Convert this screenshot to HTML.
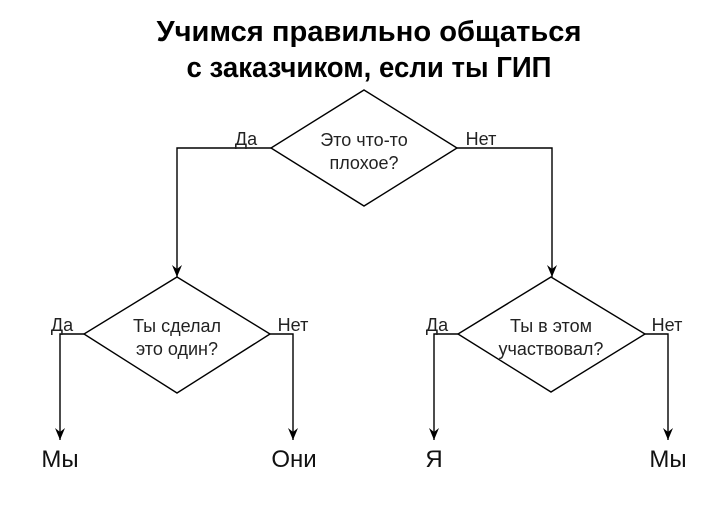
<!DOCTYPE html>
<html><head><meta charset="utf-8"><style>html,body{margin:0;padding:0;background:#fff}svg{display:block}</style></head>
<body>
<svg width="720" height="512" viewBox="0 0 720 512" xmlns="http://www.w3.org/2000/svg" font-family="Liberation Sans, sans-serif">
<defs><marker id="a" markerWidth="14" markerHeight="14" refX="12" refY="6" orient="auto" markerUnits="userSpaceOnUse"><path d="M0,1 L12,6 L0,11 L4,6 Z" fill="#000"/></marker></defs>
<g font-weight="bold" font-size="29" text-anchor="middle" fill="#000">
<text x="369" y="41" textLength="425" lengthAdjust="spacingAndGlyphs">Учимся правильно общаться</text>
<text x="369" y="77" textLength="365" lengthAdjust="spacingAndGlyphs">с заказчиком, если ты ГИП</text>
</g>
<g fill="none" stroke="#000" stroke-width="1.4">
<polygon points="364,90 457,148 364,206 271,148" fill="#fff"/>
<polygon points="177,277 270,334 177,393 84,334" fill="#fff"/>
<polygon points="551,277 645,334 551,392 458,334" fill="#fff"/>
<polyline points="271,148 177,148 177,277" marker-end="url(#a)"/>
<polyline points="457,148 552,148 552,277" marker-end="url(#a)"/>
<polyline points="84,334 60,334 60,440" marker-end="url(#a)"/>
<polyline points="270,334 293,334 293,440" marker-end="url(#a)"/>
<polyline points="458,334 434,334 434,440" marker-end="url(#a)"/>
<polyline points="645,334 668,334 668,440" marker-end="url(#a)"/>
</g>
<g font-size="18" fill="#222" text-anchor="middle">
<text x="364" y="146">Это что-то</text>
<text x="364" y="169">плохое?</text>
<text x="177" y="332">Ты сделал</text>
<text x="177" y="355">это один?</text>
<text x="551" y="332">Ты в этом</text>
<text x="551" y="355">участвовал?</text>
<text x="246" y="145">Да</text>
<text x="481" y="145">Нет</text>
<text x="62" y="331">Да</text>
<text x="293" y="331">Нет</text>
<text x="437" y="331">Да</text>
<text x="667" y="331">Нет</text>
</g>
<g font-size="24" fill="#111" text-anchor="middle">
<text x="60" y="467">Мы</text>
<text x="294" y="467">Они</text>
<text x="434" y="467">Я</text>
<text x="668" y="467">Мы</text>
</g>
</svg>
</body></html>
